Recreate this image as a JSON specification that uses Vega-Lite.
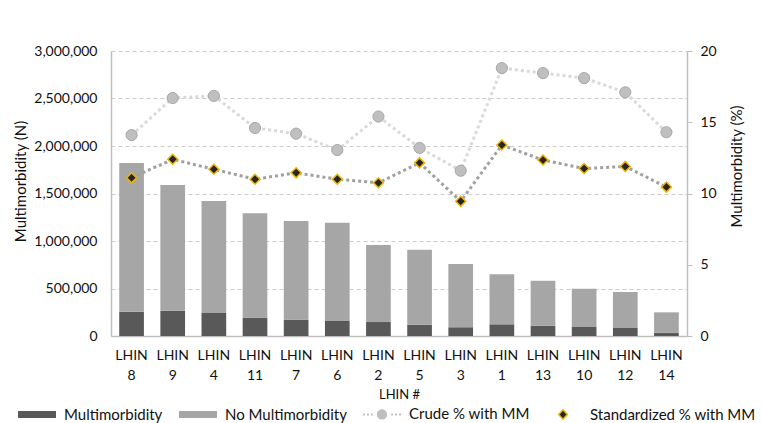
{
  "$schema": "https://vega.github.io/schema/vega-lite/v6.json",
  "width": 576,
  "height": 285,
  "autosize": {"type": "none"},
  "padding": {"left": 111, "top": 51, "right": 75, "bottom": 87},
  "background": "white",
  "config": {
    "font": "Lato",
    "view": {"stroke": null},
    "axis": {
      "labelFont": "Lato",
      "titleFont": "Lato",
      "labelColor": "#111111",
      "titleColor": "#111111",
      "titleFontWeight": "normal",
      "domainColor": "#bfbfbf",
      "domainWidth": 1.5,
      "tickColor": "#bfbfbf"
    }
  },
  "data": {
    "values": [
      {"lhin": "LHIN 8", "Multimorbidity": 256000, "No Multimorbidity": 1564000, "Crude % with MM": 14.1, "Standardized % with MM": 11.1},
      {"lhin": "LHIN 9", "Multimorbidity": 266000, "No Multimorbidity": 1323000, "Crude % with MM": 16.7, "Standardized % with MM": 12.4},
      {"lhin": "LHIN 4", "Multimorbidity": 242000, "No Multimorbidity": 1179000, "Crude % with MM": 16.85, "Standardized % with MM": 11.7},
      {"lhin": "LHIN 11", "Multimorbidity": 193000, "No Multimorbidity": 1098000, "Crude % with MM": 14.6, "Standardized % with MM": 11.0},
      {"lhin": "LHIN 7", "Multimorbidity": 172000, "No Multimorbidity": 1038000, "Crude % with MM": 14.2, "Standardized % with MM": 11.45},
      {"lhin": "LHIN 6", "Multimorbidity": 158000, "No Multimorbidity": 1035000, "Crude % with MM": 13.05, "Standardized % with MM": 11.0},
      {"lhin": "LHIN 2", "Multimorbidity": 147000, "No Multimorbidity": 811000, "Crude % with MM": 15.4, "Standardized % with MM": 10.75},
      {"lhin": "LHIN 5", "Multimorbidity": 119000, "No Multimorbidity": 790000, "Crude % with MM": 13.2, "Standardized % with MM": 12.15},
      {"lhin": "LHIN 3", "Multimorbidity": 91000, "No Multimorbidity": 667000, "Crude % with MM": 11.6, "Standardized % with MM": 9.45},
      {"lhin": "LHIN 1", "Multimorbidity": 123000, "No Multimorbidity": 526000, "Crude % with MM": 18.8, "Standardized % with MM": 13.4},
      {"lhin": "LHIN 13", "Multimorbidity": 109000, "No Multimorbidity": 473000, "Crude % with MM": 18.45, "Standardized % with MM": 12.35},
      {"lhin": "LHIN 10", "Multimorbidity": 95000, "No Multimorbidity": 403000, "Crude % with MM": 18.1, "Standardized % with MM": 11.75},
      {"lhin": "LHIN 12", "Multimorbidity": 84000, "No Multimorbidity": 379000, "Crude % with MM": 17.1, "Standardized % with MM": 11.9},
      {"lhin": "LHIN 14", "Multimorbidity": 35000, "No Multimorbidity": 214000, "Crude % with MM": 14.3, "Standardized % with MM": 10.45}
    ]
  },
  "encoding": {
    "x": {
      "field": "lhin",
      "type": "nominal",
      "sort": null,
      "scale": {"paddingInner": 0.4, "paddingOuter": 0.2},
      "axis": {
        "title": "LHIN #",
        "titleFontSize": 13,
        "titlePadding": 6,
        "labelAngle": 0,
        "labelExpr": "split(datum.label, ' ')",
        "labelFontSize": 14,
        "labelLineHeight": 20,
        "labelPadding": 12,
        "ticks": false
      }
    }
  },
  "layer": [
    {
      "transform": [{"fold": ["Multimorbidity", "No Multimorbidity"], "as": ["series", "value"]}],
      "mark": {"type": "bar"},
      "encoding": {
        "y": {
          "field": "value",
          "type": "quantitative",
          "stack": "zero",
          "scale": {"domain": [0, 3000000], "nice": false},
          "axis": {
            "title": "Multimorbidity (N)",
            "titleFontSize": 15,
            "titlePadding": 5,
            "titleY": 130,
            "values": [0, 500000, 1000000, 1500000, 2000000, 2500000, 3000000],
            "labelExpr": "format(datum.value, ',')",
            "labelFontSize": 14,
            "labelPadding": 14,
            "ticks": false,
            "grid": true,
            "gridColor": "#cccccc",
            "gridDash": [4, 3],
            "gridWidth": 1
          }
        },
        "order": {"field": "series", "sort": "ascending"},
        "color": {
          "field": "series",
          "type": "nominal",
          "scale": {
            "domain": ["Multimorbidity", "No Multimorbidity", "Crude % with MM", "Standardized % with MM"],
            "range": ["#595959", "#a6a6a6", "#bfbfbf", "#262626"]
          },
          "legend": {
            "orient": "none",
            "legendX": -94,
            "legendY": 343,
            "direction": "horizontal",
            "title": null,
            "padding": 0,
            "symbolSize": 1444,
            "labelFont": "Lato",
            "labelFontSize": 15,
            "labelColor": "#111111",
            "labelLimit": 400,
            "labelOffset": 7,
            "columnPadding": 13,
            "encode": {
              "symbols": {
                "update": {
                  "shape": {"signal": "datum.value === 'Crude % with MM' ? 'M-1,-0.05h0.1v0.1h-0.1Z M-0.79,-0.05h0.1v0.1h-0.1Z M-0.58,-0.05h0.1v0.1h-0.1Z M-0.27,0 A0.27,0.27 0 1,0 0.27,0 A0.27,0.27 0 1,0 -0.27,0 Z M0.48,-0.05h0.1v0.1h-0.1Z M0.69,-0.05h0.1v0.1h-0.1Z M0.9,-0.05h0.1v0.1h-0.1Z' : datum.value === 'Standardized % with MM' ? 'M0,-0.25L0.23,0L0,0.25L-0.23,0Z' : 'M-1,-0.185L1,-0.185L1,0.185L-1,0.185Z'"},
                  "fill": {"signal": "datum.value === 'Multimorbidity' ? '#595959' : datum.value === 'No Multimorbidity' ? '#a6a6a6' : datum.value === 'Crude % with MM' ? '#c0c0c0' : '#262626'"},
                  "stroke": {"signal": "datum.value === 'Standardized % with MM' ? '#f0b400' : 'transparent'"},
                  "strokeWidth": {"value": 1.5},
                  "opacity": {"value": 1}
                }
              }
            }
          }
        }
      }
    },
    {
      "transform": [{"fold": ["Crude % with MM", "Standardized % with MM"], "as": ["series", "pct"]}],
      "encoding": {
        "y": {
          "field": "pct",
          "type": "quantitative",
          "scale": {"domain": [0, 20], "nice": false},
          "axis": {
            "orient": "right",
            "title": "Multimorbidity  (%)",
            "titleAngle": 270,
            "titleBaseline": "top",
            "titleFontSize": 15,
            "titlePadding": 13,
            "titleY": 115,
            "values": [0, 5, 10, 15, 20],
            "labelFontSize": 14,
            "labelPadding": 8,
            "ticks": true,
            "tickSize": 5,
            "grid": false
          }
        }
      },
      "layer": [
        {
          "transform": [{"filter": "datum.series === 'Crude % with MM'"}],
          "mark": {"type": "line", "color": "#d9d9d9", "strokeWidth": 3, "strokeDash": [3, 3]}
        },
        {
          "transform": [{"filter": "datum.series === 'Crude % with MM'"}],
          "mark": {"type": "point", "shape": "circle", "filled": true, "size": 125, "opacity": 1, "stroke": "#a8a8a8", "strokeWidth": 1},
          "encoding": {"color": {"field": "series", "type": "nominal"}}
        },
        {
          "transform": [{"filter": "datum.series === 'Standardized % with MM'"}],
          "mark": {"type": "line", "color": "#a0a0a0", "strokeWidth": 3, "strokeDash": [3, 3]}
        },
        {
          "transform": [{"filter": "datum.series === 'Standardized % with MM'"}],
          "mark": {"type": "point", "shape": "diamond", "filled": true, "size": 100, "opacity": 1, "stroke": "#f0b400", "strokeWidth": 1.5},
          "encoding": {"color": {"field": "series", "type": "nominal"}}
        }
      ]
    }
  ],
  "resolve": {"scale": {"y": "independent"}}
}
